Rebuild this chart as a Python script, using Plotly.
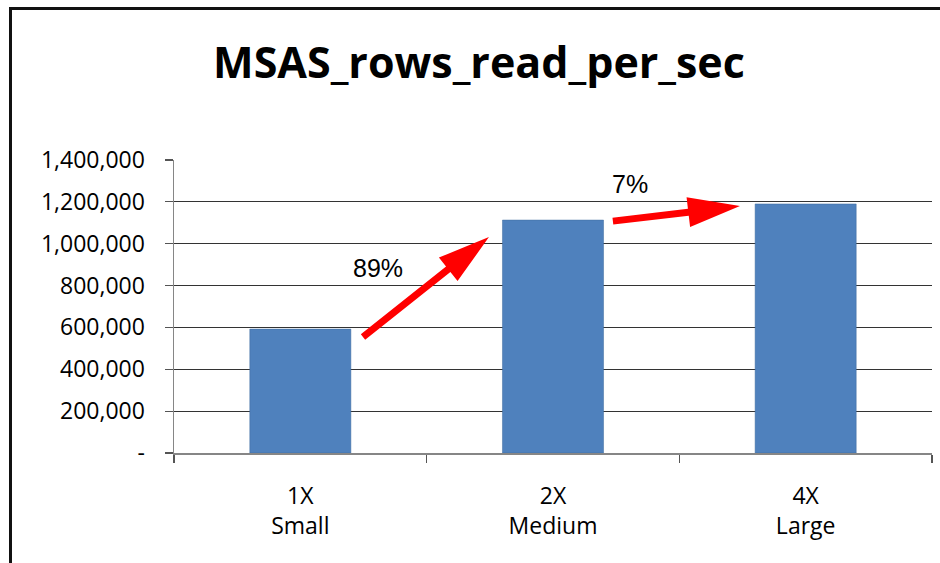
import plotly.graph_objects as go

# ---- data ----
categories = ["1X<br>Small", "2X<br>Medium", "4X<br>Large"]
rows_per_sec = [592000, 1113000, 1190000]
y_tick_vals = [0, 200000, 400000, 600000, 800000, 1000000, 1200000, 1400000]
y_tick_text = ["-", "200,000", "400,000", "600,000", "800,000", "1,000,000", "1,200,000", "1,400,000"]
growth_labels = ["89%", "7%"]
label_x = [0.307, 1.305]
label_y = [884000, 1285000]
arrow_from_x = [0.248, 1.237]
arrow_from_y = [554000, 1108000]
arrow_to_x = [0.7465, 1.740]
arrow_to_y = [1032000, 1180000]

# ---- layout geometry ----
W, H = 940, 563
ML, MR, MT, MB = 174, 8, 160, 110
PW, PH = W - ML - MR, H - MT - MB
XR = (-0.5, 2.5)
YR = (0, 1400000)


def to_px(x, y):
    px = ML + (x - XR[0]) / (XR[1] - XR[0]) * PW
    py = MT + PH - (y - YR[0]) / (YR[1] - YR[0]) * PH
    return px, py


def to_data(px, py):
    x = XR[0] + (px - ML) / PW * (XR[1] - XR[0])
    y = YR[0] + (MT + PH - py) / PH * (YR[1] - YR[0])
    return x, y


def arrow_path(x0, y0, x1, y1, shaft=3.5, head_len=52, head_half=15):
    ax, ay = to_px(x0, y0)
    bx, by = to_px(x1, y1)
    dx, dy = bx - ax, by - ay
    L = (dx * dx + dy * dy) ** 0.5
    ux, uy = dx / L, dy / L
    nx, ny = -uy, ux
    hx, hy = bx - ux * head_len, by - uy * head_len
    pts = [
        (ax + nx * shaft, ay + ny * shaft),
        (hx + nx * shaft, hy + ny * shaft),
        (hx + nx * head_half, hy + ny * head_half),
        (bx, by),
        (hx - nx * head_half, hy - ny * head_half),
        (hx - nx * shaft, hy - ny * shaft),
        (ax - nx * shaft, ay - ny * shaft),
    ]
    dpts = [to_data(p[0], p[1]) for p in pts]
    return "M " + " L ".join(f"{x:.5f},{y:.2f}" for x, y in dpts) + " Z"


fig = go.Figure()
fig.add_trace(go.Bar(
    x=list(range(len(categories))),
    y=rows_per_sec,
    width=0.4,
    marker=dict(color="#4F81BD", line=dict(color="#3F6B9E", width=0.5)),
    hoverinfo="skip",
))

shapes = []
for i in range(len(arrow_from_x)):
    shapes.append(dict(
        type="path", xref="x", yref="y",
        path=arrow_path(arrow_from_x[i], arrow_from_y[i], arrow_to_x[i], arrow_to_y[i]),
        fillcolor="#FF0000", line=dict(width=0), layer="above",
    ))

# outer chart border
shapes.append(dict(
    type="rect", xref="paper", yref="paper",
    x0=(10.5 - ML) / PW, x1=(955 - ML) / PW,
    y0=(MT + PH - 580) / PH, y1=(MT + PH - 8.5) / PH,
    line=dict(color="#111111", width=3), fillcolor="rgba(0,0,0,0)", layer="below",
))

annotations = []
for i, t in enumerate(growth_labels):
    annotations.append(dict(
        x=label_x[i], y=label_y[i], xref="x", yref="y", text=t, showarrow=False,
        font=dict(family="Liberation Sans, Arial", size=25, color="#000000"),
        xanchor="center", yanchor="middle",
    ))

fig.update_layout(
    width=W, height=H,
    margin=dict(l=ML, r=MR, t=MT, b=MB),
    paper_bgcolor="white", plot_bgcolor="white",
    showlegend=False,
    bargap=0.6,
    title=dict(
        text="<b>MSAS_rows_read_per_sec</b>",
        font=dict(family="Open Sans", size=43, color="#000000"),
        x=479 / W, xanchor="center", xref="container",
        y=1 - 63 / H, yanchor="middle", yref="container",
    ),
    shapes=shapes,
    annotations=annotations,
)

fig.update_xaxes(
    range=list(XR),
    tickvals=[0, 1, 2], ticktext=categories,
    showgrid=False, zeroline=False,
    showline=True, linecolor="#868686", linewidth=1.5,
    ticks="", tickfont=dict(family="Open Sans", size=23, color="#000000"),
    ticklabelstandoff=22,
    minor=dict(tickvals=[-0.5, 0.5, 1.5, 2.5], ticks="outside", ticklen=8,
               tickcolor="#555555", tickwidth=1.2, showgrid=False),
)
fig.update_yaxes(
    range=list(YR),
    tickvals=y_tick_vals, ticktext=y_tick_text,
    showgrid=True, gridcolor="#333333", gridwidth=1,
    zeroline=False,
    showline=True, linecolor="#868686", linewidth=1.5,
    ticks="outside", ticklen=8, tickcolor="#555555", tickwidth=1.2,
    tickfont=dict(family="Open Sans", size=23, color="#000000"),
    ticklabelstandoff=15,
)

fig.write_html(
    "out.html",
    config={"displayModeBar": False, "staticPlot": True},
    post_script="document.body.style.margin='0';document.body.style.overflow='hidden';",
)
